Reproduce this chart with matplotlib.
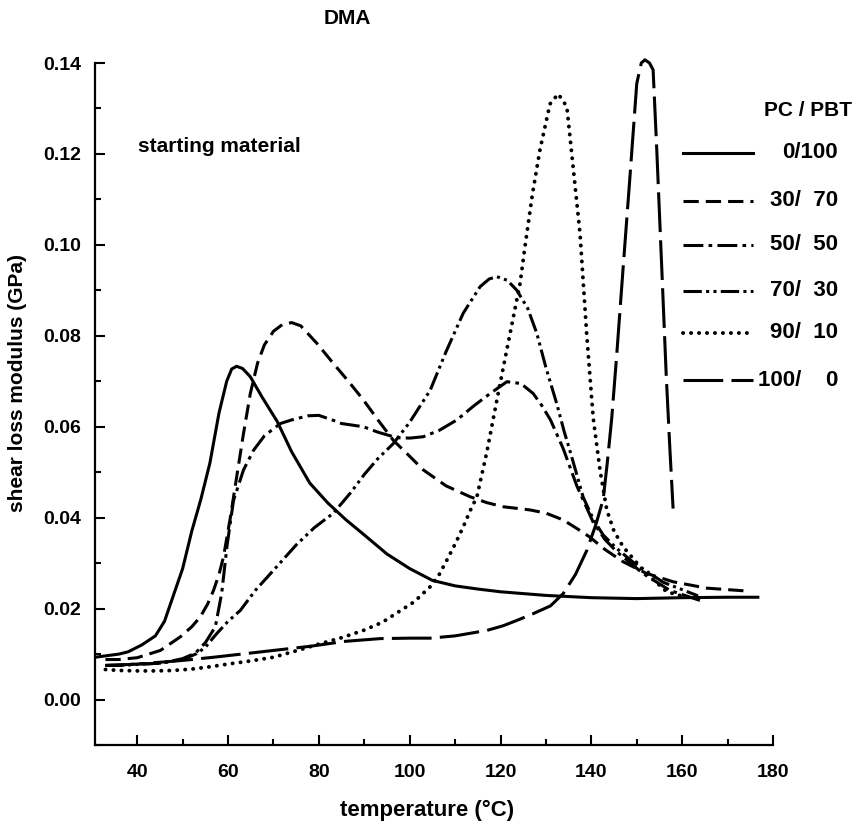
import numpy as np
import matplotlib
matplotlib.use('Agg')
import matplotlib.pyplot as plt
from matplotlib.lines import Line2D
from matplotlib.ticker import MultipleLocator

plt.rcParams['font.family'] = ['Liberation Sans', 'DejaVu Sans']
plt.rcParams['font.weight'] = 'bold'

# ---------------- data ----------------
labels = ['0/100', '30/\u200770', '50/\u200750', '70/\u200730', '90/\u200710', '100/\u2007\u20070']

t_0_100 = [30.7, 33, 36, 38, 41, 44, 46, 48, 50, 52, 54, 56, 58, 59.7, 60.8, 61.9, 63.2, 64.9,
           67.5, 70.8, 74, 78, 82, 86, 90, 95, 100, 105, 110, 115, 120, 130, 140, 150, 160, 170, 177]
g_0_100 = [0.0093, 0.0096, 0.0100, 0.0105, 0.0120, 0.0140, 0.0172, 0.0230, 0.0288, 0.0370, 0.0440,
           0.0520, 0.0630, 0.0700, 0.0727, 0.0733, 0.0728, 0.0710, 0.0665, 0.0612, 0.0545, 0.0476,
           0.0432, 0.0395, 0.0362, 0.0320, 0.0288, 0.0262, 0.0250, 0.0243, 0.0237, 0.0229, 0.0224,
           0.0222, 0.0224, 0.0225, 0.0225]

t_30_70 = [33, 36, 40, 45.1, 49.5, 52, 53.9, 55.5, 56.8, 58, 59, 60.5, 61.9, 63.4, 64.9, 66.5, 68,
           70, 72, 74, 76, 79.6, 83.2, 86.5, 89.8, 93, 96.4, 100, 103, 108, 113.3, 117, 120.6, 124,
           126.5, 130, 133.8, 137, 139.7, 143, 147, 152, 158, 165.4, 173.8]
g_30_70 = [0.0088, 0.0088, 0.0092, 0.0108, 0.0138, 0.0160, 0.0182, 0.0210, 0.0240, 0.0275, 0.0314,
           0.0400, 0.0490, 0.0585, 0.0673, 0.0740, 0.0780, 0.0810, 0.0825, 0.0829, 0.0822, 0.0783,
           0.0739, 0.0700, 0.0659, 0.0615, 0.0570, 0.0535, 0.0505, 0.0470, 0.0446, 0.0433, 0.0424,
           0.0420, 0.0417, 0.0410, 0.0395, 0.0375, 0.0357, 0.0330, 0.0303, 0.0278, 0.0259, 0.0245,
           0.0239]

t_50_50 = [33, 36, 40, 45.4, 50, 52.8, 55, 57.2, 58.6, 59.8, 61.2, 63.4, 65.6, 68, 71.5, 74, 77.6,
           80, 83.2, 85, 89.8, 93, 97.1, 100, 103, 106.5, 110.4, 114, 117.7, 121.4, 124.5, 127.2,
           129, 131, 133.8, 136.8, 140.4, 143, 145.6, 151.4, 157.3, 163.9]
g_50_50 = [0.0075, 0.0076, 0.0078, 0.0080, 0.0090, 0.0102, 0.0125, 0.0160, 0.0234, 0.0340, 0.0438,
           0.0505, 0.0548, 0.0580, 0.0607, 0.0615, 0.0624, 0.0625, 0.0614, 0.0607, 0.0600, 0.0588,
           0.0576, 0.0575, 0.0578, 0.0592, 0.0615, 0.0645, 0.0673, 0.0699, 0.0695, 0.0673, 0.0648,
           0.0615, 0.0552, 0.0470, 0.0390, 0.0352, 0.0325, 0.0277, 0.0240, 0.0218]

t_70_30 = [33, 36, 40, 45, 50, 53.1, 55, 57.5, 60, 62.7, 66, 70.7, 75, 79, 83.2, 87, 90, 93, 96.4,
           100, 104.5, 108, 111.8, 115.5, 117.5, 119.2, 121.5, 123.6, 126, 128, 130, 132.4, 134,
           135.5, 138.2, 140.5, 142.6, 145.5, 149.2, 155.8, 161.7, 163.5]
g_70_30 = [0.0075, 0.0075, 0.0077, 0.0080, 0.0088, 0.0101, 0.0115, 0.0145, 0.0172, 0.0196, 0.0240,
           0.0292, 0.0340, 0.0378, 0.0410, 0.0455, 0.0495, 0.0530, 0.0563, 0.0610, 0.0680, 0.0765,
           0.0850, 0.0908, 0.0925, 0.0930, 0.0922, 0.0900, 0.0860, 0.0805, 0.0730, 0.0650, 0.0590,
           0.0540, 0.0445, 0.0395, 0.0362, 0.0333, 0.0302, 0.0258, 0.0235, 0.0228]

t_90_10 = [33, 36, 40, 44, 48, 52, 56, 60, 65, 70, 76, 80, 85, 89.8, 94, 97.1, 101, 104.5, 106.5,
           108.2, 110, 111.8, 113.3, 114.8, 117, 119.2, 120.7, 122.1, 124.3, 125.3, 127, 128.7,
           130.9, 132.7, 134.6, 136, 137.5, 139, 140.4, 141.9, 143.4, 145, 147, 151.4, 156.6, 160.2]
g_90_10 = [0.0066, 0.0064, 0.0063, 0.0063, 0.0064, 0.0067, 0.0072, 0.0078, 0.0085, 0.0093, 0.0110,
           0.0122, 0.0136, 0.0152, 0.0170, 0.0190, 0.0215, 0.0248, 0.0275, 0.0307, 0.0342, 0.0380,
           0.0415, 0.0446, 0.0545, 0.0659, 0.0735, 0.0805, 0.0915, 0.0990, 0.1110, 0.1210, 0.1310,
           0.1332, 0.1304, 0.1170, 0.1025, 0.0800, 0.0620, 0.0505, 0.0417, 0.0370, 0.0336, 0.0284,
           0.0237, 0.0227]

t_100_0 = [33, 36, 40, 45, 50, 56.8, 63, 70, 78, 85.8, 93.5, 100, 104.5, 110, 117, 120.5, 123.6, 127,
           131, 133.8, 136.5, 139, 141, 142.6, 143.5, 144.5, 145.6, 147, 148.5, 150, 151, 151.8,
           152.8, 153.6, 154.4, 155.5, 156.5, 157.3, 158]
g_100_0 = [0.0075, 0.0076, 0.0078, 0.0082, 0.0086, 0.0093, 0.0100, 0.0108, 0.0117, 0.0128, 0.0134,
           0.0135, 0.0135, 0.0140, 0.0152, 0.0162, 0.0174, 0.0188, 0.0206, 0.0233, 0.0275, 0.0328,
           0.0385, 0.0440, 0.0520, 0.0620, 0.0760, 0.0950, 0.1150, 0.1355, 0.1400, 0.1407, 0.1400,
           0.1385, 0.1210, 0.0950, 0.0710, 0.0550, 0.0420]

series_t = [t_0_100, t_30_70, t_50_50, t_70_30, t_90_10, t_100_0]
series_g = [g_0_100, g_30_70, g_50_50, g_70_30, g_90_10, g_100_0]

# line styles (dash units are multiples of line width)
styles = ['-',
          (0, (5, 2.3)),
          (0, (6.5, 1.7, 1.2, 1.7)),
          (0, (6, 1.4, 1, 1.4, 1, 1.4)),
          (0, (0.05, 2.0)),
          (0, (13, 2.7))]
widths = [2.2, 2.2, 2.2, 2.2, 2.8, 2.2]
caps = ['butt', 'butt', 'butt', 'butt', 'round', 'butt']

# ---------------- figure ----------------
W, H = 856, 825
fig = plt.figure(figsize=(W / 100, H / 100), dpi=100)
ax = fig.add_axes([95 / W, 1 - 745 / H, (773 - 95) / W, (745 - 63) / H])

for t, g, ls, lw, cap in zip(series_t, series_g, styles, widths, caps):
    ax.plot(t, g, color='black', lw=lw, linestyle=ls, dash_capstyle=cap,
            solid_capstyle='butt', solid_joinstyle='round', clip_on=False)

ax.set_xlim(30.7, 180)
ax.set_ylim(-0.01, 0.14)
ax.xaxis.set_minor_locator(MultipleLocator(10))
ax.yaxis.set_minor_locator(MultipleLocator(0.01))
ax.set_xticks(np.arange(40, 181, 20))
ax.set_yticks(np.arange(0, 0.141, 0.02))
ax.set_yticklabels(['%.2f' % v for v in np.arange(0, 0.141, 0.02)])
ax.tick_params(which='major', direction='in', length=7, width=1.5, labelsize=14)
ax.tick_params(axis='x', pad=14)
ax.tick_params(axis='y', pad=10)
ax.tick_params(which='minor', direction='in', length=4, width=1.5)
for s in ['top', 'right']:
    ax.spines[s].set_visible(False)
for s in ['left', 'bottom']:
    ax.spines[s].set_linewidth(1.6)

fs = 15
fig.text(347 / W, 1 - 18 / H, 'DMA', ha='center', va='center', fontsize=fs)
fig.text(138 / W, 1 - 147 / H, 'starting material', ha='left', va='center', fontsize=fs)
fig.text(18 / W, 1 - 383 / H, 'shear loss modulus (GPa)', rotation=90,
         ha='center', va='center', fontsize=fs)
fig.text(427 / W, 1 - 810 / H, 'temperature (\u00b0C)', ha='center', va='center', fontsize=16)

# legend drawn by hand
fig.text(808 / W, 1 - 110 / H, 'PC / PBT', ha='center', va='center', fontsize=fs)
leg_y = [153, 201, 245, 291, 333, 380]
for yy, ls, lw, cap, lab in zip(leg_y, styles, widths, caps, labels):
    fig.add_artist(Line2D([683 / W, 753 / W], [1 - yy / H, 1 - yy / H], color='black', lw=lw,
                          linestyle=ls, dash_capstyle=cap, transform=fig.transFigure))
    fig.text(838 / W, 1 - yy / H, lab, ha='right', va='center', fontsize=16)

fig.savefig('out.png', dpi=100)
